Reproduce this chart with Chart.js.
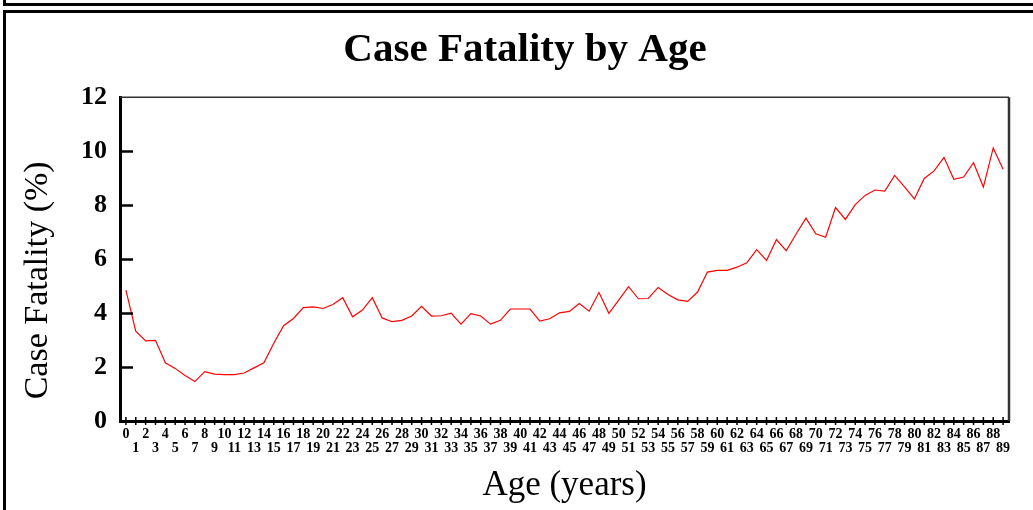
<!DOCTYPE html>
<html>
<head>
<meta charset="utf-8">
<title>Case Fatality by Age</title>
<script src="https://cdn.jsdelivr.net/npm/chart.js@4.4.1/dist/chart.umd.min.js"></script>
<style>
body { margin: 0; background: #fff; overflow: hidden; }
#wrap { position: relative; width: 1033px; height: 510px; overflow: hidden; }
.prevbox { position: absolute; left: 3px; top: -10px; width: 1100px; height: 13px; border-left: 3px solid #000; border-bottom: 3px solid #000; }
.frame { position: absolute; left: 3px; top: 10px; width: 1100px; height: 600px; border-left: 3px solid #000; border-top: 3px solid #000; }
#fatality_chart { position: absolute; left: 0; top: 0; }
</style>
</head>
<body>
<div id="wrap">
  <div class="prevbox"></div>
  <div class="frame"></div>
  <canvas id="fatality_chart" width="1033" height="510"></canvas>
</div>
<script>
const ages = [0, 1, 2, 3, 4, 5, 6, 7, 8, 9, 10, 11, 12, 13, 14, 15, 16, 17, 18, 19,
    20, 21, 22, 23, 24, 25, 26, 27, 28, 29, 30, 31, 32, 33, 34, 35, 36, 37, 38, 39,
    40, 41, 42, 43, 44, 45, 46, 47, 48, 49, 50, 51, 52, 53, 54, 55, 56, 57, 58, 59,
    60, 61, 62, 63, 64, 65, 66, 67, 68, 69, 70, 71, 72, 73, 74, 75, 76, 77, 78, 79,
    80, 81, 82, 83, 84, 85, 86, 87, 88, 89];
// case fatality (%) per year of age
const fatality = [4.85, 3.33, 2.97, 2.99, 2.16, 1.95, 1.69, 1.46, 1.83, 1.74,
    1.72, 1.72, 1.78, 1.97, 2.16, 2.88, 3.53, 3.80, 4.20, 4.23,
    4.17, 4.32, 4.57, 3.86, 4.11, 4.57, 3.82, 3.68, 3.73, 3.89,
    4.25, 3.89, 3.90, 4.00, 3.59, 3.98, 3.89, 3.59, 3.73, 4.15,
    4.15, 4.15, 3.70, 3.79, 4.01, 4.06, 4.35, 4.07, 4.76, 3.99,
    4.48, 4.98, 4.53, 4.54, 4.95, 4.69, 4.49, 4.43, 4.78, 5.52,
    5.58, 5.58, 5.70, 5.86, 6.35, 5.95, 6.72, 6.31, 6.93, 7.52,
    6.94, 6.81, 7.91, 7.47, 8.02, 8.36, 8.56, 8.52, 9.10, 8.68,
    8.23, 8.99, 9.27, 9.77, 8.96, 9.04, 9.57, 8.67, 10.12, 9.33];
const yTicks = [0, 2, 4, 6, 8, 10, 12];

const serif = "'Liberation Serif', 'Times New Roman', serif";
const points = ages.map((a, i) => ({ x: a, y: fatality[i] }));

// inward y ticks, crossing x ticks, and the thin top/right frame of the plot
const axisMarks = {
    id: 'axisMarks',
    afterDraw(chart) {
        const ctx = chart.ctx;
        const area = chart.chartArea;
        const xs = chart.scales.x;
        const ys = chart.scales.y;
        ctx.save();
        ctx.strokeStyle = '#333';
        ctx.lineWidth = 1.5;
        ctx.beginPath();
        ctx.moveTo(area.left, area.top);
        ctx.lineTo(area.right, area.top);
        ctx.stroke();
        ctx.lineWidth = 2.5;
        ctx.beginPath();
        ctx.moveTo(area.right, area.top);
        ctx.lineTo(area.right, area.bottom);
        ctx.stroke();
        ctx.strokeStyle = '#000';
        ctx.lineWidth = 2.5;
        for (let v of yTicks) {
            if (v === 12) continue;
            const py = Math.round(ys.getPixelForValue(v)) + 0.5;
            ctx.beginPath();
            ctx.moveTo(area.left, py);
            ctx.lineTo(area.left + 13, py);
            ctx.stroke();
        }
        ctx.lineWidth = 1.5;
        for (let a of ages) {
            const px = xs.getPixelForValue(a);
            ctx.beginPath();
            ctx.moveTo(px, area.bottom - 4);
            ctx.lineTo(px, area.bottom + 4);
            ctx.stroke();
        }
        ctx.restore();
    }
};

const fatality_ctx = document.getElementById('fatality_chart').getContext('2d');
const fatality_chart = new Chart(fatality_ctx, {
    type: 'line',
    data: {
        datasets: [{
            label: 'Case Fatality',
            data: points,
            borderColor: '#ff0000',
            borderWidth: 1.2,
            pointRadius: 0,
            fill: false,
            tension: 0
        }]
    },
    options: {
        responsive: false,
        animation: false,
        layout: { padding: { left: 41, right: 24, top: 0, bottom: 0 } },
        plugins: {
            legend: { display: false },
            tooltip: { enabled: false },
            title: {
                display: true,
                text: 'Case Fatality by Age',
                color: '#000',
                font: { family: serif, size: 41, weight: 'bold', lineHeight: 1.2 },
                padding: { top: 26, bottom: 22 }
            }
        },
        scales: {
            x: {
                type: 'linear',
                min: -0.6,
                max: 89.6,
                afterBuildTicks: (scale) => { scale.ticks = ages.map(a => ({ value: a })); },
                afterFit: (scale) => { scale.height = 89; },
                grid: { display: false, drawTicks: false },
                border: { display: true, color: '#000', width: 3 },
                ticks: {
                    autoSkip: false,
                    maxRotation: 0,
                    minRotation: 0,
                    padding: 6,
                    color: '#000',
                    font: { family: serif, size: 14, weight: 'bold', lineHeight: 1.04 },
                    callback: (v) => (v % 2 === 0 ? [String(v), ''] : ['', String(v)])
                },
                title: {
                    display: true,
                    text: 'Age (years)',
                    color: '#000',
                    font: { family: serif, size: 35, lineHeight: 1.2 },
                    padding: { top: 0, bottom: 3 }
                }
            },
            y: {
                min: 0,
                max: 12,
                afterBuildTicks: (scale) => { scale.ticks = yTicks.map(v => ({ value: v })); },
                afterFit: (scale) => { scale.width = 79; },
                grid: { display: false, drawTicks: false },
                border: { display: true, color: '#000', width: 3 },
                ticks: {
                    padding: 13,
                    color: '#000',
                    font: { family: serif, size: 26, weight: 'bold' }
                },
                title: {
                    display: true,
                    // trailing spaces nudge the rotated text down like the original
                    text: 'Case Fatality (%)     ',
                    color: '#000',
                    font: { family: serif, size: 34, lineHeight: 1.2 },
                    padding: { top: -23, bottom: 0 }
                }
            }
        }
    },
    plugins: [axisMarks]
});
</script>
</body>
</html>
